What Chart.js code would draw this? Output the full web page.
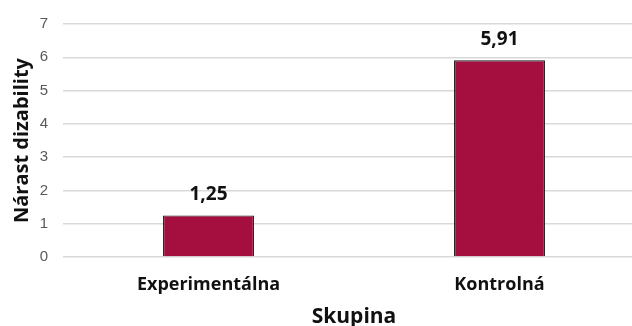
<!DOCTYPE html>
<html>
<head>
<meta charset="utf-8">
<script src="https://cdn.jsdelivr.net/npm/chart.js@4"></script>
<style>
  html, body { margin: 0; padding: 0; background: #fff; overflow: hidden; }
  #wrap { width: 645px; height: 326px; }
</style>
</head>
<body>
<div id="wrap"><canvas id="chart"></canvas></div>
<script>
// Dáta
const skupiny = ["Experimentálna", "Kontrolná"];
const hodnoty = [1.25, 5.91];
const yTicks = [0, 1, 2, 3, 4, 5, 6, 7];

const FONT = "'Open Sans'";

// Popisky nad stĺpcami (čiarka ako desatinný oddeľovač)
const labelPlugin = {
    id: 'barLabels',
    afterDatasetsDraw(chart) {
        const ctx = chart.ctx;
        const meta = chart.getDatasetMeta(0);
        ctx.save();
        ctx.font = "bold 19px " + FONT;
        ctx.fillStyle = "#111";
        ctx.textAlign = "center";
        ctx.textBaseline = "middle";
        meta.data.forEach((bar, i) => {
            const txt = hodnoty[i].toFixed(2).replace(".", ",");
            ctx.fillText(txt, bar.x, bar.y - 21);
        });
        ctx.restore();
    }
};

const ctx = document.getElementById('chart').getContext('2d');
new Chart(ctx, {
    type: 'bar',
    data: {
        labels: skupiny,
        datasets: [{
            data: hodnoty,
            backgroundColor: '#A50F3F',
            borderColor: '#1a1a1a',
            borderWidth: 1.2,
            barPercentage: 0.3125,
            categoryPercentage: 1
        }]
    },
    options: {
        responsive: true,
        maintainAspectRatio: false,
        animation: false,
        layout: { padding: { top: 6, left: 0, right: 0, bottom: 0 } },
        plugins: {
            legend: { display: false },
            tooltip: { enabled: false }
        },
        scales: {
            x: {
                grid: { display: false },
                border: { display: false },
                ticks: {
                    color: '#111',
                    font: { family: FONT, size: 18, weight: 'bold' },
                    padding: 9
                },
                title: {
                    display: true,
                    text: 'Skupina',
                    color: '#111',
                    font: { family: FONT, size: 21, weight: 'bold', lineHeight: 1 },
                    padding: { top: 0, bottom: -2 }
                },
                afterFit: s => { s.height = 69; }
            },
            y: {
                min: 0,
                max: 7,
                afterBuildTicks: s => { s.ticks = yTicks.map(v => ({ value: v })); },
                grid: { color: '#d9d9d9', lineWidth: 1.5, drawTicks: false },
                border: { display: false },
                ticks: {
                    color: '#595959',
                    font: { family: 'Liberation Sans', size: 15 },
                    padding: 15
                },
                title: {
                    display: true,
                    text: 'Nárast dizability',
                    color: '#111',
                    font: { family: FONT, size: 20, weight: 'bold' },
                    padding: { top: 10, bottom: 0 }
                },
                afterFit: s => { s.width = 63; }
            }
        }
    },
    plugins: [labelPlugin]
});
</script>
</body>
</html>
